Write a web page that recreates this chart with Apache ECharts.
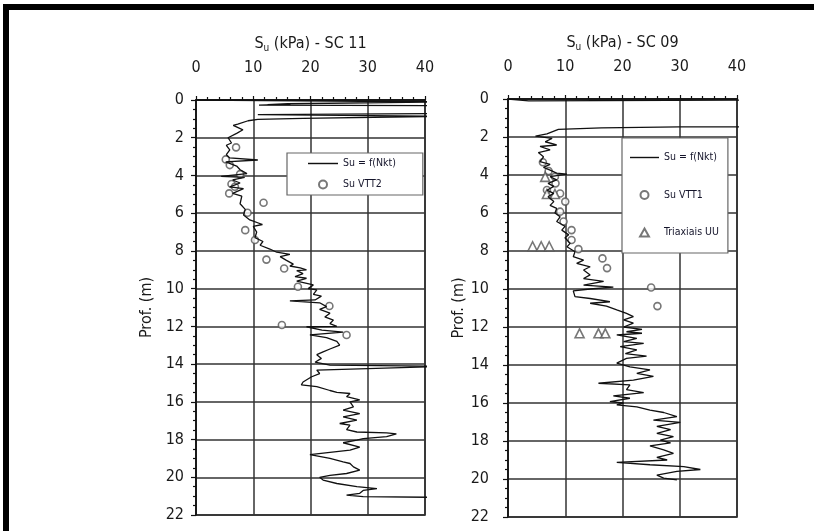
<!DOCTYPE html>
<html>
<head>
<meta charset="utf-8">
<script src="https://cdn.jsdelivr.net/npm/echarts@6/dist/echarts.min.js"></script>
<style>
  html, body { margin: 0; padding: 0; background: #fff; }
  #frame { position: absolute; left: 3px; top: 4px; width: 830px; height: 560px;
           border-left: 6px solid #000; border-top: 6px solid #000; }
  #chart { position: absolute; left: 0; top: 0; width: 814px; height: 531px; }
</style>
</head>
<body>
<div id="frame"></div>
<div id="chart"></div>
<script>
// Su (kPa) vs depth (m)
const SU_TICKS = { min: 0, max: 40, interval: 10 };
const DEPTH_TICKS = { min: 0, max: 22, interval: 2 };

// SC 11 - Su = f(Nkt)  [Su, depth]; 44 = off the scale (clipped at 40)
const sc11Nkt = [
  [0.3, 0], [44, 0.1], [44, 0.18], [16, 0.2], [12.5, 0.25], [16.5, 0.22], [11, 0.27],
  [44, 0.3], [44, 0.72], [10.8, 0.78], [44, 0.86], [44, 0.93], [18.7, 0.97], [10.8, 1.03],
  [9.1, 1.1], [7.3, 1.28], [6.5, 1.35], [8.2, 1.58],
  [7.1, 1.77], [5.6, 2.0], [6.2, 2.28], [5.3, 2.4], [5.9, 2.65], [5.3, 2.9], [5.9, 3.07],
  [10.8, 3.18], [5.2, 3.28], [7.1, 3.5], [7.7, 3.7], [8.9, 3.9], [4.4, 4.05], [8.5, 4.1],
  [6.4, 4.24], [7.7, 4.4], [5.9, 4.6], [8.3, 4.7], [6.4, 4.95], [8.0, 5.1], [7.7, 5.5],
  [8.6, 5.8], [8.3, 6.1], [9.4, 6.36], [11.6, 6.6], [10, 6.7], [10.6, 7.0], [10.3, 7.3],
  [11.7, 7.5], [11.2, 7.7], [12.9, 7.9], [14.1, 8.07], [16.4, 8.18], [14.7, 8.3],
  [15.8, 8.5], [17, 8.7], [16.4, 8.8], [18.2, 8.9], [19.3, 9.0], [17.6, 9.05], [18.7, 9.2],
  [17.3, 9.36], [19.3, 9.45], [17.6, 9.6], [20.5, 9.8], [19.6, 10.0], [21.1, 10.07],
  [20.5, 10.3], [21.9, 10.4], [20.8, 10.6], [16.4, 10.65], [21.6, 10.75], [22.8, 10.95],
  [21.6, 11.1], [23.4, 11.3], [22.5, 11.5], [24, 11.67], [23.4, 11.85], [24.6, 12.0],
  [19.3, 12.02], [22, 12.2], [25.7, 12.3], [19.9, 12.45], [22.8, 12.6], [24.6, 12.8],
  [25.1, 13.0], [23.4, 13.2], [22.2, 13.35], [21.1, 13.5], [21.9, 13.7], [20.8, 13.9],
  [23.4, 14.06], [44, 14.12], [44, 14.18], [21.1, 14.32], [21.6, 14.5], [20.2, 14.67],
  [18.7, 14.95], [18.4, 15.1], [21.1, 15.2], [23.4, 15.4], [24.6, 15.5], [26.9, 15.56],
  [26.3, 15.73], [28.6, 15.9], [26.9, 16.0], [27.5, 16.27], [25.7, 16.44], [28.6, 16.62],
  [25.7, 16.8], [28.1, 16.97], [25.1, 17.15], [26.9, 17.24], [26.3, 17.47], [28.1, 17.6],
  [33.3, 17.65], [35, 17.7], [33.3, 17.85], [29.2, 17.95], [28.1, 18.03], [25.7, 18.17],
  [28.6, 18.4], [26.9, 18.56], [19.9, 18.8], [23.4, 19.0], [25.7, 19.18], [26.9, 19.27],
  [27.5, 19.45], [28.6, 19.62], [26.3, 19.8], [23.4, 19.9], [21.6, 20.0], [22.2, 20.15],
  [24.6, 20.33], [28.1, 20.5], [31.6, 20.6], [29.2, 20.7], [28.6, 20.85], [26.3, 20.95],
  [29.2, 21.03], [44, 21.07]
];

// SC 11 - Su VTT2
const sc11Vtt2 = [
  [7.0, 2.51], [5.2, 3.15], [5.9, 3.45], [7.7, 3.93], [6.2, 4.45], [6.8, 4.6], [5.8, 4.95],
  [11.8, 5.45], [9.0, 5.98], [8.6, 6.9], [10.3, 7.42], [12.3, 8.46], [15.4, 8.93],
  [17.8, 9.9], [23.3, 10.92], [15.0, 11.93], [26.3, 12.46]
];

// SC 09 - Su = f(Nkt)
const sc09Nkt = [
  [0, 0], [3.6, 0.1], [44, 0.06], [44, 1.46], [30, 1.47], [16.3, 1.52], [8.8, 1.6],
  [8.5, 1.7], [6.8, 1.84], [4.8, 1.95], [7.7, 2.07], [6.5, 2.25], [8.5, 2.42], [5.6, 2.5],
  [7.35, 2.68], [5.3, 2.82], [6.2, 3.04], [5.6, 3.3], [7.35, 3.44], [6.2, 3.6], [7.35, 3.74],
  [8.5, 3.9], [10.3, 3.95], [7.35, 4.09], [8.5, 4.26], [7.0, 4.44], [8.0, 4.6], [6.8, 4.8],
  [8.0, 4.97], [7.0, 5.14], [8.0, 5.4], [7.35, 5.6], [8.5, 5.76], [8.2, 6.0], [9.1, 6.2],
  [8.5, 6.45], [9.95, 6.7], [9.4, 6.9], [10.6, 7.15], [9.95, 7.3], [10.85, 7.6],
  [10.3, 7.78], [11.7, 8.04], [11.4, 8.3], [13.2, 8.48], [12.0, 8.65], [14.35, 8.83],
  [13.2, 9.0], [14.35, 9.26], [13.2, 9.45], [16.7, 9.6], [13.2, 9.8], [18.4, 9.9],
  [14.35, 10.0], [11.4, 10.1], [11.7, 10.4], [14.35, 10.5], [17.8, 10.67], [14.35, 10.75],
  [17.2, 10.9], [19.0, 11.1], [20.7, 11.28], [21.9, 11.45], [20.2, 11.63], [21.9, 11.8],
  [20.2, 12.0], [23.4, 12.12], [20.7, 12.25], [23.4, 12.33], [19.0, 12.42], [22.5, 12.6],
  [20.2, 12.77], [23.7, 12.86], [19.6, 13.03], [22.5, 13.2], [20.5, 13.4], [24.2, 13.53],
  [20.7, 13.65], [19.0, 13.9], [21.3, 14.1], [24.8, 14.26], [22.5, 14.44], [25.4, 14.6],
  [21.9, 14.8], [15.8, 14.96], [21.3, 15.05], [20.7, 15.3], [23.7, 15.45], [18.4, 15.63],
  [21.3, 15.75], [17.8, 15.93], [20.2, 16.0], [19.0, 16.1], [22.5, 16.2], [24.8, 16.37],
  [27.2, 16.5], [29.5, 16.72], [25.4, 16.9], [30.1, 17.02], [26.0, 17.23], [28.4, 17.4],
  [26.0, 17.6], [28.9, 17.77], [26.6, 17.95], [28.4, 18.1], [24.8, 18.26], [27.2, 18.47],
  [28.9, 18.65], [26.0, 18.86], [27.8, 19.0], [19.0, 19.13], [24.8, 19.25], [30.7, 19.35],
  [33.6, 19.5], [29.5, 19.6], [26.0, 19.8], [27.2, 19.95], [29.5, 20.05]
];

// SC 09 - Su VTT1
const sc09Vtt1 = [
  [6.1, 3.33], [7.1, 3.79], [8.2, 4.09], [8.3, 4.44], [6.8, 4.79], [9.1, 4.97], [10.0, 5.4],
  [9.1, 5.93], [9.7, 6.45], [11.1, 6.9], [11.1, 7.42], [12.3, 7.9], [16.5, 8.39],
  [17.3, 8.9], [25.0, 9.92], [26.1, 10.9]
];

// SC 09 - Triaxiais UU
const sc09Triax = [
  [6.5, 4.1], [6.8, 5.0], [8.2, 5.0], [4.3, 7.75], [5.8, 7.75], [7.2, 7.75],
  [12.5, 12.33], [15.8, 12.33], [17.0, 12.33]
];

const FONT = "'Liberation Sans Narrow', 'DejaVu Sans Condensed', sans-serif";
const INK = "#1a1a1a";

function suAxis(gridIndex, title) {
  return {
    type: "value",
    gridIndex,
    position: "top",
    min: SU_TICKS.min,
    max: SU_TICKS.max,
    interval: SU_TICKS.interval,
    name: `{a|S}{b|u}{a| (kPa) - ${title}}`,
    nameLocation: "middle",
    nameGap: 47,
    nameTextStyle: {
      rich: {
        a: { fontSize: 16, fontFamily: FONT, color: INK },
        b: { fontSize: 10, fontFamily: FONT, color: INK, padding: [9, 0, 0, 0] },
      },
    },
    axisLine: { show: true, lineStyle: { color: "#111", width: 1.5 } },
    axisTick: { show: true, length: 4, lineStyle: { color: "#111", width: 1.2 } },
    minorTick: { show: true, splitNumber: 5, length: 3, lineStyle: { color: "#111", width: 1.2 } },
    splitLine: { show: true, lineStyle: { color: "#333", width: 1.5 } },
    axisLabel: { margin: 24, fontSize: 16, fontFamily: FONT, color: INK },
  };
}

function depthAxis(gridIndex, labelMargin) {
  return {
    type: "value",
    gridIndex,
    inverse: true,
    min: DEPTH_TICKS.min,
    max: DEPTH_TICKS.max,
    interval: DEPTH_TICKS.interval,
    name: "Prof. (m)",
    nameLocation: "middle",
    nameGap: 41,
    nameTextStyle: { fontSize: 16, fontFamily: FONT, color: INK },
    axisLine: { show: true, lineStyle: { color: "#111", width: 1.5 } },
    axisTick: { show: true, length: 5, lineStyle: { color: "#111", width: 1.2 } },
    minorTick: { show: true, splitNumber: 4, length: 3, lineStyle: { color: "#111", width: 1.2 } },
    splitLine: { show: true, lineStyle: { color: "#333", width: 1.5 } },
    axisLabel: { margin: labelMargin, fontSize: 16, fontFamily: FONT, color: INK },
  };
}

const lineStyle = { color: "#111", width: 1.3 };
const circleStyle = { color: "#fff", borderColor: "#555", borderWidth: 1.6 };

const legendText = { fontSize: 10.5, fontFamily: FONT, color: "#14142a" };
const LINE_ICON = "path://M0,0 L62,0 L62,3 L0,3 Z";
const TRI_ICON = "path://M5,0 L10,9 L0,9 Z";

const chart = echarts.init(document.getElementById("chart"));
chart.setOption({
  animation: false,
  grid: [
    { left: 196, top: 100, width: 229, height: 415, show: true, borderColor: "#111", borderWidth: 1.5 },
    { left: 508, top: 99, width: 229, height: 418, show: true, borderColor: "#111", borderWidth: 1.5 },
  ],
  xAxis: [suAxis(0, "SC 11"), suAxis(1, "SC 09")],
  yAxis: [depthAxis(0, 12), depthAxis(1, 19)],
  legend: [
    {
      orient: "vertical",
      left: 287,
      top: 153,
      padding: [5, 27, 5, 21],
      itemWidth: 30,
      itemHeight: 8,
      itemGap: 10,
      backgroundColor: "#fff",
      borderColor: "#666",
      borderWidth: 1.2,
      borderRadius: 0,
      textStyle: legendText,
      data: [
        { name: "Su = f(Nkt)", icon: LINE_ICON },
        { name: "Su VTT2", icon: "circle" },
      ],
    },
    {
      orient: "vertical",
      left: 622,
      top: 138,
      padding: [14, 9, 15, 8],
      itemWidth: 29,
      itemHeight: 8,
      itemGap: 26.5,
      backgroundColor: "#fff",
      borderColor: "#666",
      borderWidth: 1.2,
      borderRadius: 0,
      textStyle: legendText,
      data: [
        { name: "Su = f(Nkt)", icon: LINE_ICON },
        { name: "Su VTT1", icon: "circle" },
        { name: "Triaxiais UU", icon: TRI_ICON },
      ],
    },
  ],
  series: [
    { name: "Su = f(Nkt)", type: "line", xAxisIndex: 0, yAxisIndex: 0, data: sc11Nkt,
      symbol: "none", lineStyle, itemStyle: { color: "#111" }, clip: true },
    { name: "Su VTT2", type: "scatter", xAxisIndex: 0, yAxisIndex: 0, data: sc11Vtt2,
      symbol: "circle", symbolSize: 7, itemStyle: circleStyle },
    { name: "Su = f(Nkt)", type: "line", xAxisIndex: 1, yAxisIndex: 1, data: sc09Nkt,
      symbol: "none", lineStyle, itemStyle: { color: "#111" }, clip: true },
    { name: "Su VTT1", type: "scatter", xAxisIndex: 1, yAxisIndex: 1, data: sc09Vtt1,
      symbol: "circle", symbolSize: 7, itemStyle: circleStyle },
    { name: "Triaxiais UU", type: "scatter", xAxisIndex: 1, yAxisIndex: 1, data: sc09Triax,
      symbol: "triangle", symbolSize: 9, itemStyle: circleStyle },
  ],
});

window.addEventListener("resize", () => chart.resize());
</script>
</body>
</html>
